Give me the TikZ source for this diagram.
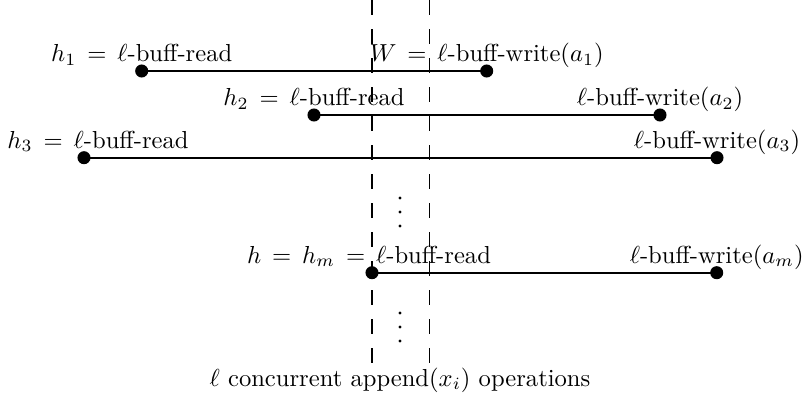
\documentclass[tikz,border=0pt]{standalone}
\begin{document}
\begin{tikzpicture}[x=0.4065pt,y=-0.4065pt,
  endpt/.style={circle,fill=black,inner sep=0pt,minimum size=5.3pt},
  lbl/.style={anchor=base,inner sep=0pt},
  guide/.style={dash pattern=on 5.9pt off 5.9pt,line width=0.7pt},
  seg/.style={line width=0.7pt},
  vdot/.style={circle,fill=black,inner sep=0pt,minimum size=1.4pt}]
\useasboundingbox (0,0) rectangle (804,404);
% dashed guides
\coordinate (gLt) at (372,0); \coordinate (gLb) at (372,362.5);
\coordinate (gRt) at (429.5,0); \coordinate (gRb) at (429.5,362.5);
\draw[guide] (gLt) -- (gLb);
\draw[guide] (gRt) -- (gRb);
% end points
\node[endpt] (r1) at (141.7,71) {};
\node[endpt] (w1) at (486.7,71) {};
\node[endpt] (r2) at (314,115) {};
\node[endpt] (w2) at (660,115) {};
\node[endpt] (r3) at (84,157.7) {};
\node[endpt] (w3) at (717,157.7) {};
\node[endpt] (rm) at (372,272.7) {};
\node[endpt] (wm) at (716.7,272.7) {};
\draw[seg] (r1.center) -- (w1.center);
\draw[seg] (r2.center) -- (w2.center);
\draw[seg] (r3.center) -- (w3.center);
\draw[seg] (rm.center) -- (wm.center);
% labels
\node[lbl] (lr1) at (141.7,61.5) {$h_1 \,=\, \ell$-buff-read};
\node[lbl] (lw1) at (486.7,61.5) {$W \,=\, \ell$-buff-write$(a_1)$};
\node[lbl] (lr2) at (314,105.5) {$h_2 \,=\, \ell$-buff-read};
\node[lbl] (lw2) at (660,105.5) {$\ell$-buff-write$(a_2)$};
\node[lbl] (lr3) at (98,148.2) {$h_3 \,=\, \ell$-buff-read};
\node[lbl] (lw3) at (717,148.2) {$\ell$-buff-write$(a_3)$};
\node[lbl] (lrm) at (369,263.2) {$h \,=\, h_m \,=\, \ell$-buff-read};
\node[lbl] (lwm) at (716.7,263.2) {$\ell$-buff-write$(a_m)$};
% vertical dots
\node[vdot] (u1) at (400,198) {};
\node[vdot] (u2) at (400,212) {};
\node[vdot] (u3) at (400,226) {};
\node[vdot] (d1) at (400,313) {};
\node[vdot] (d2) at (400,327) {};
\node[vdot] (d3) at (400,341) {};
% caption
\node[lbl] (cap) at (400,386) {$\ell$ concurrent append$(x_i)$ operations};
\end{tikzpicture}
\end{document}
